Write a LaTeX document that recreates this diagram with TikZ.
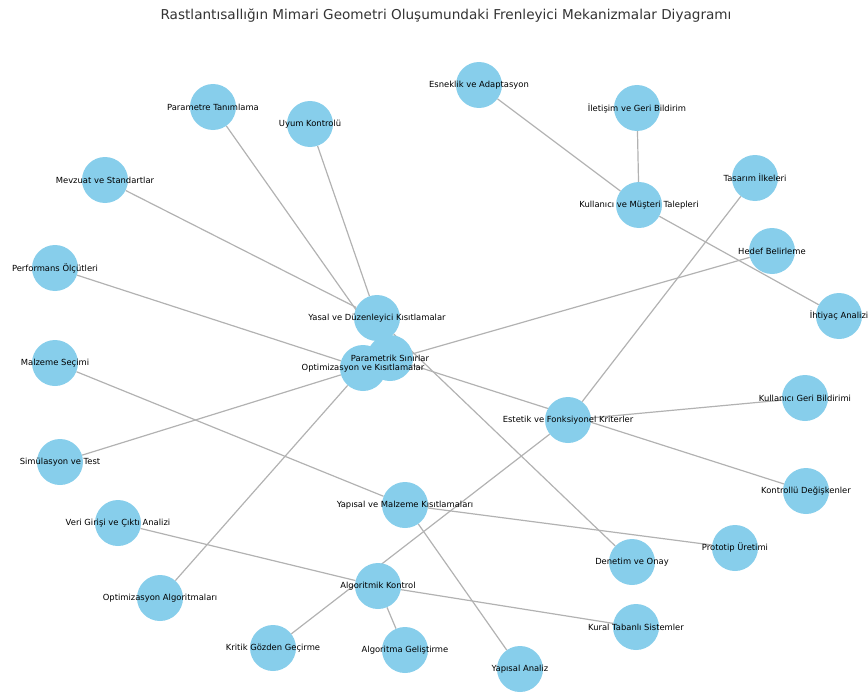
\documentclass[tikz,border=0pt]{standalone}
\usepackage{fontspec}
\setmainfont{DejaVu Sans}
\usetikzlibrary{backgrounds}
\definecolor{gokmavi}{HTML}{87CEEB}

\begin{document}
\begin{tikzpicture}[x=1pt,y=-1pt]
    \tikzset{kavram/.style = {shape=circle,fill=gokmavi,minimum size=46pt,inner sep=0pt}}
    \tikzset{yazi/.style = {font=\fontsize{8.4}{9}\selectfont,inner sep=0pt}}
    \tikzset{bag/.style = {draw=gray!60,line width=1.2pt}}
    \useasboundingbox (0,0) rectangle (868,693);
    \node[font=\fontsize{13.6}{15}\selectfont,text=black!80] (baslik) at (446,16) {Rastlantısallığın Mimari Geometri Oluşumundaki Frenleyici Mekanizmalar Diyagramı};
    % kavramlar, ust kisim
    \node[kavram] (param) at (213,107) {};
    \node[kavram] (uyum) at (310,124) {};
    \node[kavram] (esnek) at (479,85) {};
    \node[kavram] (iletisim) at (637,108) {};
    \node[kavram] (mevzuat) at (105,180) {};
    \node[kavram] (tasarim) at (755,178) {};
    \node[kavram] (musteri) at (639,205) {};
    \node[kavram] (hedef) at (772,251) {};
    \node[kavram] (perf) at (55,268) {};
    \node[kavram] (ihtiyac) at (839,316) {};
    % kavramlar, orta kisim
    \node[kavram] (yasal) at (377,318) {};
    \node[kavram] (parsin) at (390,358) {};
    \node[kavram] (optkis) at (363,368) {};
    \node[kavram] (malzeme) at (55,363) {};
    \node[kavram] (kgeri) at (805,398) {};
    \node[kavram] (estetik) at (568,420) {};
    \node[kavram] (simul) at (60,462) {};
    \node[kavram] (kontrol) at (806,491) {};
    % kavramlar, alt kisim
    \node[kavram] (yapisal) at (405,505) {};
    \node[kavram] (veri) at (118,523) {};
    \node[kavram] (proto) at (735,548) {};
    \node[kavram] (denetim) at (632,562) {};
    \node[kavram] (algo) at (378,586) {};
    \node[kavram] (optalg) at (160,598) {};
    \node[kavram] (kural) at (636,627) {};
    \node[kavram] (kritik) at (273,648) {};
    \node[kavram] (alggel) at (405,650) {};
    \node[kavram] (yanaliz) at (520,669) {};
    % yazilar
    \node[yazi] (param-y) at (param) {Parametre Tanımlama};
    \node[yazi] (uyum-y) at (uyum) {Uyum Kontrolü};
    \node[yazi] (esnek-y) at (esnek) {Esneklik ve Adaptasyon};
    \node[yazi] (iletisim-y) at (iletisim) {İletişim ve Geri Bildirim};
    \node[yazi] (mevzuat-y) at (mevzuat) {Mevzuat ve Standartlar};
    \node[yazi] (tasarim-y) at (tasarim) {Tasarım İlkeleri};
    \node[yazi] (musteri-y) at (musteri) {Kullanıcı ve Müşteri Talepleri};
    \node[yazi] (hedef-y) at (hedef) {Hedef Belirleme};
    \node[yazi] (perf-y) at (perf) {Performans Ölçütleri};
    \node[yazi] (ihtiyac-y) at (ihtiyac) {İhtiyaç Analizi};
    \node[yazi] (yasal-y) at (yasal) {Yasal ve Düzenleyici Kısıtlamalar};
    \node[yazi] (parsin-y) at (parsin) {Parametrik Sınırlar};
    \node[yazi] (optkis-y) at (optkis) {Optimizasyon ve Kısıtlamalar};
    \node[yazi] (malzeme-y) at (malzeme) {Malzeme Seçimi};
    \node[yazi] (kgeri-y) at (kgeri) {Kullanıcı Geri Bildirimi};
    \node[yazi] (estetik-y) at (estetik) {Estetik ve Fonksiyonel Kriterler};
    \node[yazi] (simul-y) at (simul) {Simülasyon ve Test};
    \node[yazi] (kontrol-y) at (kontrol) {Kontrollü Değişkenler};
    \node[yazi] (yapisal-y) at (yapisal) {Yapısal ve Malzeme Kısıtlamaları};
    \node[yazi] (veri-y) at (veri) {Veri Girişi ve Çıktı Analizi};
    \node[yazi] (proto-y) at (proto) {Prototip Üretimi};
    \node[yazi] (denetim-y) at (denetim) {Denetim ve Onay};
    \node[yazi] (algo-y) at (algo) {Algoritmik Kontrol};
    \node[yazi] (optalg-y) at (optalg) {Optimizasyon Algoritmaları};
    \node[yazi] (kural-y) at (kural) {Kural Tabanlı Sistemler};
    \node[yazi] (kritik-y) at (kritik) {Kritik Gözden Geçirme};
    \node[yazi] (alggel-y) at (alggel) {Algoritma Geliştirme};
    \node[yazi] (yanaliz-y) at (yanaliz) {Yapısal Analiz};
    % baglantilar
    \begin{scope}[on background layer]
    \draw[bag] (yasal) to (mevzuat);
    \draw[bag] (yasal) to (uyum);
    \draw[bag] (yasal) to (denetim);
    \draw[bag] (parsin) to (param);
    \draw[bag] (parsin) to (kontrol);
    \draw[bag] (optkis) to (perf);
    \draw[bag] (optkis) to (simul);
    \draw[bag] (optkis) to (optalg);
    \draw[bag] (optkis) to (hedef);
    \draw[bag] (estetik) to (tasarim);
    \draw[bag] (estetik) to (kgeri);
    \draw[bag] (estetik) to (kritik);
    \draw[bag] (yapisal) to (malzeme);
    \draw[bag] (yapisal) to (proto);
    \draw[bag] (yapisal) to (yanaliz);
    \draw[bag] (algo) to (veri);
    \draw[bag] (algo) to (kural);
    \draw[bag] (algo) to (alggel);
    \draw[bag] (musteri) to (esnek);
    \draw[bag] (musteri) to (iletisim);
    \draw[bag] (musteri) to (ihtiyac);
    \end{scope}
\end{tikzpicture}
\end{document}
